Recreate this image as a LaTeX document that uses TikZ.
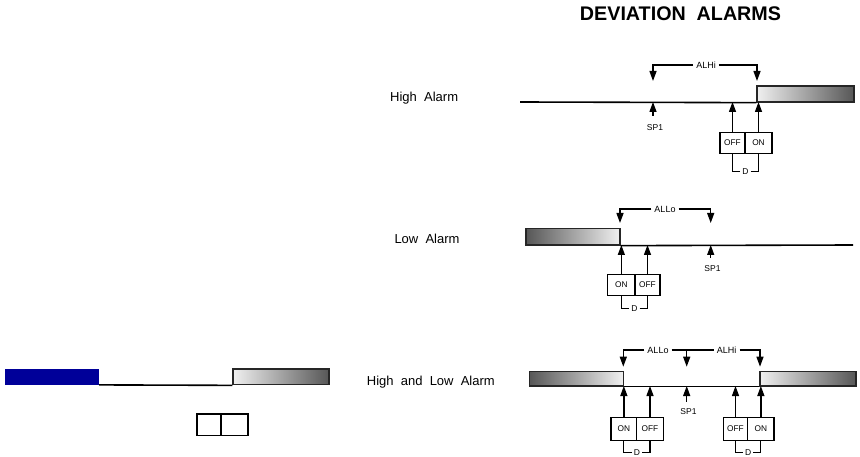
\documentclass[tikz,border=0pt]{standalone}
\usepackage{fontspec}
\setmainfont{Liberation Sans}
\usetikzlibrary{arrows.meta}
\definecolor{navy}{RGB}{0,0,153}
\begin{document}
\begin{tikzpicture}[x=1pt,y=-1pt,
  arr/.style={-{Triangle[length=10pt,width=7pt]}, line width=1.3pt},
  ln/.style={line width=1.6pt},
  brk/.style={line width=1.2pt},
  sw/.style={draw, line width=1.2pt, inner sep=0pt, font=\fontsize{8.3}{9}\selectfont},
  lab/.style={font=\fontsize{13}{15}\selectfont, anchor=base west, inner sep=0pt},
  sm/.style={font=\fontsize{8.5}{10}\selectfont, inner sep=0pt},
  dl/.style={font=\fontsize{8.5}{9}\selectfont, inner sep=2pt},
  tag/.style={font=\fontsize{9}{10}\selectfont, inner sep=3pt},
  barbase/.style={draw=black!85, line width=1.3pt, inner sep=0pt},
  barhi/.style={barbase, left color=black!6, right color=black!66},
  barlo/.style={barbase, left color=black!66, right color=black!6}
]
\useasboundingbox (0,0) rectangle (860,457);

% Title
\node[font=\bfseries\fontsize{19.7}{22}\selectfont, inner sep=0pt] (title) at (680.5,14) {DEVIATION\ \ ALARMS};

% ===== High Alarm =====
\node[lab] (hlab) at (390,102) {High\ \ Alarm};
\coordinate (h0) at (520,102);
\node[barhi, minimum width=97pt, minimum height=16pt] (hbar) at (805.5,94) {};
\draw[ln] (h0) -- (hbar.south west);
\node[tag] (hALHi) at (706,65) {ALHi};
\coordinate (hL) at (653,81);
\coordinate (hR) at (757,81);
\draw[arr] (hALHi.west) -| (hL);
\draw[arr] (hALHi.east) -| (hR);
\node[sm] (hsp) at (655,128) {SP1};
\coordinate (hspt) at (653,116);
\coordinate (hspl) at (653,102);
\draw[arr] (hspt) -- (hspl);
\node[sw, minimum width=25pt, minimum height=20.5pt] (hoff) at (732.5,143) {OFF};
\node[sw, minimum width=27pt, minimum height=20.5pt] (hon) at (758.5,143) {ON};
\draw[arr] (hoff.north) -- (hoff.north |- h0);
\draw[arr] (hon.north) -- (hon.north |- h0);
\node[dl] (hD) at (745.5,171.5) {D};
\draw[brk] (hD.west) -| (hoff.south);
\draw[brk] (hD.east) -| (hon.south);

% ===== Low Alarm =====
\node[lab] (llab) at (394.3,243.3) {Low\ \ Alarm};
\node[barlo, minimum width=94pt, minimum height=16.5pt] (lbar) at (573,236.75) {};
\coordinate (l1) at (853,245);
\draw[ln] (lbar.south east) -- (l1);
\node[tag] (lALLo) at (665,209) {ALLo};
\coordinate (lL) at (620,223);
\coordinate (lR) at (710.7,223);
\draw[arr] (lALLo.west) -| (lL);
\draw[arr] (lALLo.east) -| (lR);
\node[sm] (lsp) at (712.5,269) {SP1};
\coordinate (lspt) at (710.7,258);
\coordinate (lspl) at (710.7,245);
\draw[arr] (lspt) -- (lspl);
\node[sw, minimum width=27.3pt, minimum height=21.4pt] (lon) at (621.35,285) {ON};
\node[sw, minimum width=25pt, minimum height=21.4pt] (loff) at (647.5,285) {OFF};
\draw[arr] (lon.north) -- (lon.north |- l1);
\draw[arr] (loff.north) -- (loff.north |- l1);
\node[dl] (lD) at (634.4,308.3) {D};
\draw[brk] (lD.west) -| (lon.south);
\draw[brk] (lD.east) -| (loff.south);

% ===== High and Low Alarm =====
\node[lab] (hllab) at (366.7,385.3) {High\ \ and\ \ Low\ \ Alarm};
\node[barlo, minimum width=94pt, minimum height=14.3pt] (hlL) at (576.3,378.85) {};
\node[barhi, minimum width=96pt, minimum height=14.3pt] (hlR) at (808,378.85) {};
\draw[ln] (hlL.south east) -- (hlR.south west);
\node[tag] (hlALLo) at (658,350) {ALLo};
\node[tag] (hlALHi) at (726.7,350) {ALHi};
\coordinate (hlA) at (623.3,366.7);
\coordinate (hlM0) at (686.7,350);
\coordinate (hlM) at (686.7,366.7);
\coordinate (hlB) at (760,366.7);
\draw[arr] (hlALLo.west) -| (hlA);
\draw[brk] (hlALLo.east) -- (hlALHi.west);
\draw[arr] (hlM0) -- (hlM);
\draw[arr] (hlALHi.east) -| (hlB);
\node[sm] (hlsp) at (688.5,411.7) {SP1};
\coordinate (hlspt) at (686.7,401.7);
\coordinate (hlspl) at (686.7,386);
\draw[arr] (hlspt) -- (hlspl);
\node[sw, minimum width=25.7pt, minimum height=23pt] (hlon1) at (623.85,428.8) {ON};
\node[sw, minimum width=26.6pt, minimum height=23pt] (hloff1) at (650,428.8) {OFF};
\node[sw, minimum width=24.4pt, minimum height=23pt] (hloff2) at (735.5,428.8) {OFF};
\node[sw, minimum width=26.3pt, minimum height=23pt] (hlon2) at (760.85,428.8) {ON};
\draw[arr] (hlon1.north) -- (hlon1.north |- hlspl);
\draw[arr] (hloff1.north) -- (hloff1.north |- hlspl);
\draw[arr] (hloff2.north) -- (hloff2.north |- hlspl);
\draw[arr] (hlon2.north) -- (hlon2.north |- hlspl);
\node[dl] (hlD1) at (636.9,452.3) {D};
\draw[brk] (hlD1.west) -| (hlon1.south);
\draw[brk] (hlD1.east) -| (hloff1.south);
\node[dl] (hlD2) at (748.2,452.3) {D};
\draw[brk] (hlD2.west) -| (hloff2.south);
\draw[brk] (hlD2.east) -| (hlon2.south);

% ===== Left stray sketch =====
\node[fill=navy, inner sep=0pt, minimum width=94pt, minimum height=15.7pt] (sblue) at (52,376.85) {};
\node[barhi, minimum width=96pt, minimum height=15.7pt] (sgrey) at (281,376.85) {};
\draw[ln] (sblue.south east) -- (sgrey.south west);
\node[sw, minimum width=24pt, minimum height=21.3pt] (sb1) at (209,424.65) {};
\node[sw, minimum width=27pt, minimum height=21.3pt] (sb2) at (234.5,424.65) {};
\end{tikzpicture}
\end{document}
